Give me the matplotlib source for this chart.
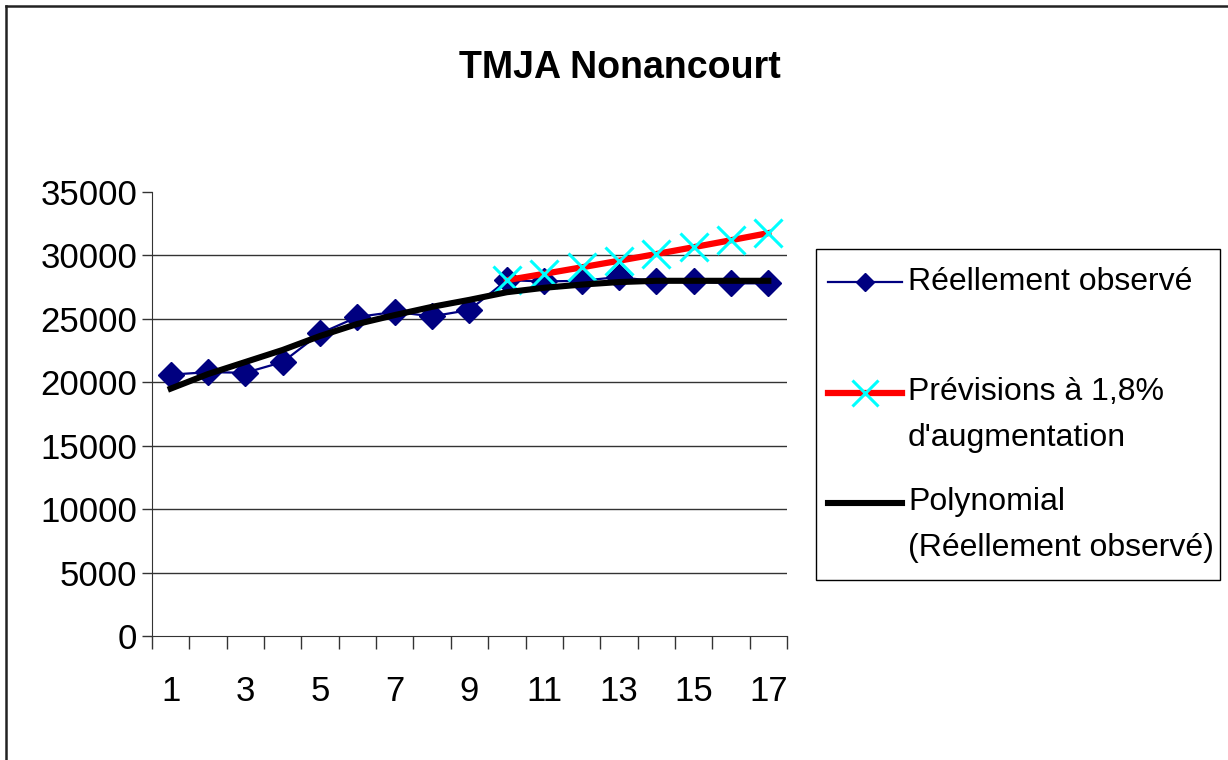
import numpy as np
import matplotlib.pyplot as plt
from matplotlib.lines import Line2D
from matplotlib.patches import Rectangle

plt.rcParams['font.family'] = ['Liberation Sans', 'DejaVu Sans']

# data
annees = list(range(1, 18))
observe = [20600, 20800, 20750, 21600, 23850, 25150, 25550, 25200, 25700,
           28050, 27950, 28000, 28300, 27950, 27950, 27800, 27800]
previsions = [np.nan] * 9 + [28050, 28550, 29060, 29580, 30110, 30650, 31200, 31760]
polynomial = [19500, 20650, 21600, 22550, 23650, 24600, 25300, 25950, 26500,
              27100, 27450, 27700, 27900, 28000, 28000, 28000, 28000]

W, H = 1228, 760
fig = plt.figure(figsize=(W / 100, H / 100), dpi=100)
ax = fig.add_axes([152 / W, 1 - 636 / H, (787 - 152) / W, (636 - 192) / H])

ax.plot(annees, observe, color='#000080', lw=1.6, marker='D', ms=13, zorder=3)
ax.plot(annees, previsions, color='#ff0000', lw=4.5, marker='x', ms=20,
        mec='#00ffff', mew=2.2, zorder=4)
ax.plot(annees, polynomial, color='black', lw=4.4, zorder=5)

ax.set_xlim(0.5, 17.5)
ax.set_ylim(0, 35000)
ax.set_yticks(range(0, 35001, 5000))
ax.tick_params(axis='y', direction='out', length=7, width=1, pad=3.5,
               labelsize=25, color='#333333')
ax.yaxis.grid(True, color='#333333', lw=1)
ax.get_ygridlines()[-1].set_visible(False)
ax.get_ygridlines()[0].set_visible(False)

# category boundaries as ticks, odd categories labelled
ax.set_xticks(np.arange(0.5, 18, 1))
ax.set_xticklabels([])
ax.set_xticks(annees[::2], minor=True)
ax.set_xticklabels([str(a) for a in annees[::2]], minor=True)
ax.tick_params(axis='x', which='major', direction='out', length=9, width=1,
               color='#333333')
ax.tick_params(axis='x', which='minor', length=0, pad=28, labelsize=25)

for s in ['top', 'right']:
    ax.spines[s].set_visible(False)
for s in ['left', 'bottom']:
    ax.spines[s].set_color('#333333')
ax.set_axisbelow(True)

fig.text(620 / W, 1 - 68 / H, 'TMJA Nonancourt', ha='center', va='center',
         fontsize=27, fontweight='bold')

# chart border (cropped at right and bottom)
fig.add_artist(Line2D([6 / W, 6 / W], [0, 1 - 6 / H], color='#222222', lw=1.8))
fig.add_artist(Line2D([6 / W, 1], [1 - 6 / H, 1 - 6 / H], color='#222222', lw=1.8))

# legend drawn by hand to keep Excel spacing
def fx(x):
    return x / W

def fy(y):
    return 1 - y / H

fig.add_artist(Rectangle((fx(816), fy(580)), fx(1220) - fx(816), fy(249) - fy(580),
                         transform=fig.transFigure, fill=False, ec='black', lw=1))
fig.add_artist(Line2D([fx(828), fx(902)], [fy(282), fy(282)], color='#000080', lw=1.6))
fig.add_artist(Line2D([fx(865)], [fy(282)], marker='D', ms=9, color='#000080'))
fig.add_artist(Line2D([fx(828), fx(902)], [fy(393), fy(393)], color='#ff0000', lw=4.5))
fig.add_artist(Line2D([fx(865)], [fy(393)], marker='x', ms=19, mec='#00ffff', mew=2.2))
fig.add_artist(Line2D([fx(828), fx(902)], [fy(503), fy(503)], color='black', lw=4.4))

legend_txt = [(282, 'Réellement observé'), (392, 'Prévisions à 1,8%'),
              (438, "d'augmentation"), (502, 'Polynomial'),
              (548, '(Réellement observé)')]
for y, t in legend_txt:
    fig.text(fx(908), fy(y), t, ha='left', va='center', fontsize=23)

fig.savefig('out.png', dpi=100)
